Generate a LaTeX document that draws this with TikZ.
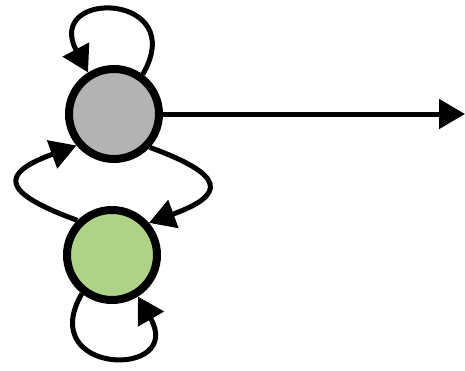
\documentclass[tikz,border=0pt]{standalone}
\usetikzlibrary{arrows.meta}
\definecolor{stgray}{HTML}{B3B3B3}
\definecolor{stgreen}{HTML}{AED386}

\begin{document}
\begin{tikzpicture}[x=1pt,y=-1pt,
  state/.style={shape=circle, minimum size=90pt, inner sep=0pt, draw, line width=8pt},
  trans/.style={line width=5pt, -{Triangle[length=26pt,width=29pt]}}]
\useasboundingbox (0,0) rectangle (465,370);

\path (114,114) node (S1) [state, fill=stgray] {};
\path (112,255) node (S2) [state, fill=stgreen] {};
\coordinate (out) at (465,114);

\draw [trans] (S1) to (out);
\draw [trans] (S1.54) to[out=60,in=118,distance=95pt] (S1.122);
\draw [trans] (S2.232) to[out=240,in=300,distance=95pt] (S2.302);
\draw [trans] (S1.-43) to[out=-20,in=20,distance=82pt] (S2.41);
\draw [trans] (S2.135) to[out=160,in=200,distance=82pt] (S1.220);

\end{tikzpicture}
\end{document}
